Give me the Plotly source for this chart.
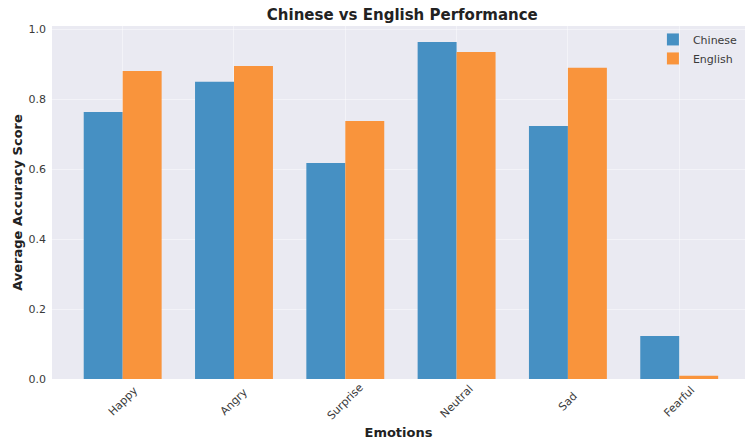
import plotly.graph_objects as go

emotions = ["Happy", "Angry", "Surprise", "Neutral", "Sad", "Fearful"]
chinese = [0.763, 0.849, 0.617, 0.963, 0.723, 0.123]
english = [0.880, 0.894, 0.737, 0.934, 0.889, 0.009]
y_ticks = [0.0, 0.2, 0.4, 0.6, 0.8, 1.0]

FONT = "DejaVu Sans"
fig = go.Figure()
fig.add_trace(go.Bar(x=emotions, y=chinese, name="Chinese",
                     marker=dict(color="#4690c3", line=dict(width=0))))
fig.add_trace(go.Bar(x=emotions, y=english, name="English",
                     marker=dict(color="#f9943c", line=dict(width=0))))

annotations = []
for e in emotions:
    annotations.append(dict(x=e, y=0, xref="x", yref="paper", text=e,
                            showarrow=False, textangle=-45, yshift=-22,
                            xanchor="center", yanchor="middle",
                            font=dict(family=FONT, size=11, color="#3a3a3a")))

fig.update_layout(
    width=745, height=445,
    margin=dict(l=52, r=0, t=26, b=66, autoexpand=False),
    paper_bgcolor="white", plot_bgcolor="#eaeaf2",
    barmode="group", bargap=0.3, bargroupgap=0,
    font=dict(family=FONT, size=11, color="#333333"),
    title=dict(text="<b>Chinese vs English Performance</b>", x=0.54, xanchor="center",
               y=0.966, yanchor="middle",
               font=dict(family=FONT, size=15, color="#222222")),
    legend=dict(x=0.997, y=1.003, xanchor="right", yanchor="top",
                bgcolor="rgba(0,0,0,0)", font=dict(family=FONT, size=11, color="#3a3a3a"),
                itemwidth=30, tracegroupgap=0),
    annotations=annotations,
    xaxis=dict(range=[-0.635, 5.591], showgrid=True, gridcolor="rgba(255,255,255,0.45)",
               gridwidth=1, showticklabels=False, ticks="", zeroline=False,
               title=dict(text="<b>Emotions</b>", standoff=48,
                          font=dict(family=FONT, size=13, color="#222222"))),
    yaxis=dict(range=[0, 1.0086], tickvals=y_ticks, ticktext=[f"{v:.1f}" for v in y_ticks],
               showgrid=True, gridcolor="rgba(255,255,255,0.45)", gridwidth=1,
               zeroline=False, ticks="", ticklen=0, ticklabelstandoff=5,
               tickfont=dict(family=FONT, size=11, color="#3a3a3a"),
               title=dict(text="<b>Average Accuracy Score</b>", standoff=2,
                          font=dict(family=FONT, size=13, color="#222222"))),
)
fig.write_html("out.html", config={"displayModeBar": False},
               post_script="document.body.style.margin='0';")
